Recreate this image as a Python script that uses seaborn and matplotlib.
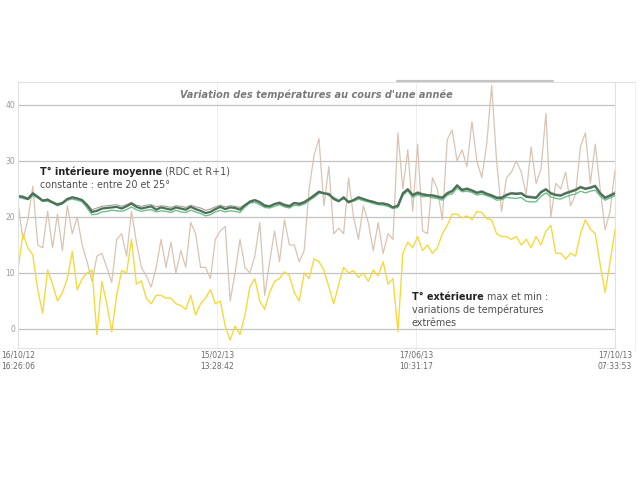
import numpy as np
import pandas as pd
import matplotlib
matplotlib.use("Agg")
import matplotlib.pyplot as plt
import seaborn as sns
from matplotlib.lines import Line2D

# ---------------- data ----------------
start = "2012-10-16 16:26:06"
end = "2013-10-17 07:33:53"
n_points = 122

tick_dates = ["2012-10-16 16:26:06", "2013-02-15 13:28:42",
              "2013-06-17 10:31:17", "2013-10-17 07:33:53"]
tick_labels = ["16/10/12\n16:26:06", "15/02/13\n13:28:42",
               "17/06/13\n10:31:17", "17/10/13\n07:33:53"]
y_ticks = [0, 10, 20, 30, 40]

ext_max = [22.5, 16, 19.5, 25.5, 15, 14.5, 21, 14.5, 20.5, 14,
           22, 17, 20, 15, 12, 8.5, 13, 13.5, 11, 8.3,
           16, 17, 13, 21, 15.5, 11, 9.5, 7.5, 11, 16,
           11, 15.5, 10, 14, 11, 19, 17, 11, 11, 9,
           16, 17.5, 18.3, 5, 10, 16, 11, 10, 13, 19,
           6, 12, 17.5, 12, 19.5, 15, 15, 12, 14, 25,
           31, 34, 22, 29, 17, 18, 17, 27, 20, 16,
           22, 19, 14, 19, 13.5, 17, 16, 35, 25, 32,
           21, 33, 17.5, 17, 27, 25, 19.5, 33.8, 35.5, 30,
           32, 29, 37, 30, 27, 33, 43.5, 30, 21, 27,
           28, 30, 28, 24, 32.5, 26, 28.5, 38.5, 20, 26,
           25, 28, 22, 24, 32.6, 35, 26, 33, 25, 17.7,
           21, 28.4]

ext_min = [10.6, 17, 14.5, 13.2, 7, 2.8, 10.5, 8, 5, 6.5,
           9, 13.8, 7, 9, 10, 10.5, -1.0, 8.5, 4.5, -0.5,
           6, 10.4, 10, 16, 8, 8.6, 5.5, 4.5, 6, 6,
           5.5, 5.5, 4.5, 4.2, 3.5, 6, 2.5, 4.5, 5.5, 7,
           4.5, 5, 0.5, -2.0, 0.5, -1.0, 2.5, 7.5, 9, 5,
           3.5, 6.5, 8.5, 9, 10.2, 9.5, 6.5, 5, 10, 9,
           12.5, 12, 10.5, 7.5, 4.5, 8, 11, 10, 10.4, 9.2,
           10, 8.5, 10.5, 9.5, 12, 8, 9, -0.5, 13.5, 15.5,
           14.5, 16.5, 14, 15, 13.5, 14.5, 17, 18.5, 20.5, 20.5,
           19.8, 20.2, 19.5, 21, 20.8, 19.7, 19.5, 17, 16.5, 16.5,
           16, 16.5, 15, 16, 14.5, 16.5, 15, 17.5, 18.5, 13.5,
           13.5, 12.5, 13.5, 13, 17, 19.5, 17.8, 17, 11.5, 6.5,
           12, 17.7]

int_dark = [23.7, 23.6, 23.2, 24.2, 23.6, 22.9, 23.1, 22.6, 22.2, 22.5, 23.2, 23.5, 23.3, 23.0,
            22.1, 20.9, 21.1, 21.5, 21.6, 21.7, 21.8, 21.5, 21.9, 22.4, 21.8, 21.5, 21.7, 21.9, 21.3, 21.7,
            21.5, 21.3, 21.7, 21.5, 21.3, 21.8, 21.4, 21.1, 20.7, 20.9, 21.4, 21.8, 21.4, 21.7, 21.6, 21.3,
            22.1, 22.7, 23.0, 22.6, 22.0, 21.9, 22.3, 22.5, 22.1, 21.9, 22.5, 22.3, 22.6, 23.2, 23.8,
            24.5, 24.2, 24.1, 23.2, 22.8, 23.5, 22.6, 23.0, 23.5, 23.2, 22.9, 22.7, 22.4, 22.4, 22.2, 21.7, 22.0,
            24.2, 24.9, 23.9, 24.3, 24.0, 23.9, 23.8, 23.6, 23.4, 24.2, 24.6, 25.6, 24.8, 25.0, 24.7, 24.3,
            24.5, 24.1, 23.8, 23.4, 23.4, 23.9,
            24.2, 24.1, 24.2, 23.6, 23.5, 23.4, 24.4, 24.9, 24.2, 23.9, 23.8, 24.2, 24.5, 24.8, 25.3, 25.0,
            25.2, 25.5, 24.2, 23.4, 23.8, 24.2]

int_green = [23.5, 23.3, 23.1, 23.8, 23.4, 22.8, 22.8, 22.5, 22.0, 22.3, 23.0, 23.2, 23.0, 22.7,
             21.6, 20.4, 20.5, 20.9, 21.0, 21.2, 21.1, 21.0, 21.3, 21.8, 21.3, 21.0, 21.2, 21.3, 20.9, 21.1,
             21.0, 20.8, 21.2, 20.9, 20.8, 21.2, 20.9, 20.6, 20.2, 20.4, 20.9, 21.2, 20.9, 21.1, 21.0, 20.8,
             21.8, 22.5, 22.6, 22.2, 21.7, 21.6, 21.9, 22.2, 21.8, 21.6, 22.1, 22.0, 22.3, 22.9, 23.5,
             24.2, 24.4, 23.8, 23.5, 23.0, 23.2, 22.9, 22.8, 23.2, 22.9, 22.7, 22.4, 22.2, 22.1, 21.9, 21.5, 21.7,
             23.8, 24.7, 23.5, 24.0, 23.6, 23.7, 23.4, 23.3, 23.0, 23.9, 24.1, 25.2, 24.5, 24.6, 24.4, 23.9,
             24.1, 23.8, 23.5, 23.0, 23.1, 23.5,
             23.4, 23.3, 23.5, 22.8, 22.7, 22.7, 23.7, 24.3, 23.6, 23.3, 23.2, 23.6, 23.9, 24.1, 24.6, 24.3,
             24.6, 24.8, 23.7, 23.0, 23.4, 23.8]

int_gray = [23.8, 23.7, 23.4, 24.4, 23.7, 23.0, 23.2, 22.7, 22.4, 22.6, 23.3, 23.6, 23.4, 23.1,
            22.3, 21.3, 21.6, 21.9, 22.0, 22.1, 22.2, 21.9, 22.2, 22.6, 22.1, 21.9, 22.1, 22.2, 21.8, 22.0,
            21.9, 21.7, 22.0, 21.9, 21.7, 22.1, 21.8, 21.6, 21.2, 21.4, 21.8, 22.1, 21.8, 22.0, 21.9, 21.7,
            22.2, 22.9, 23.1, 22.8, 22.2, 22.0, 22.4, 22.7, 22.3, 22.1, 22.6, 22.5, 22.8, 23.3, 24.0,
            24.6, 24.3, 24.2, 23.4, 22.9, 23.6, 22.8, 23.1, 23.6, 23.3, 23.0, 22.8, 22.5, 22.5, 22.3, 21.8, 22.2,
            24.4, 25.1, 24.1, 24.5, 24.2, 24.0, 24.0, 23.8, 23.6, 24.4, 24.8, 25.8, 25.0, 25.2, 24.9, 24.5,
            24.7, 24.3, 24.0, 23.6, 23.6, 24.1,
            24.4, 24.3, 24.4, 23.8, 23.7, 23.6, 24.6, 25.1, 24.4, 24.1, 24.0, 24.4, 24.7, 25.0, 25.5, 25.2,
            25.4, 25.7, 24.4, 23.6, 24.0, 24.5]

# ---------------- figure ----------------
sns.set_theme(style="white")
plt.rcParams["font.family"] = ["DejaVu Sans"]

dates = pd.date_range(start, end, periods=n_points)
df = pd.DataFrame({"date": dates, "ext_max": ext_max, "ext_min": ext_min,
                   "int_gray": int_gray, "int_green": int_green, "int_dark": int_dark})

fig = plt.figure(figsize=(6.4, 4.8), dpi=100)
fig.patch.set_facecolor("white")
ax = fig.add_axes([18 / 640, 1 - 348 / 480, (615 - 18) / 640, (348 - 82) / 480])

styles = [("ext_max", "#d9c4b4", 0.9),
          ("ext_min", "#f4da3e", 1.0),
          ("int_gray", "#a29d98", 0.8),
          ("int_green", "#6cc18b", 1.0),
          ("int_dark", "#4d6f58", 1.6)]
for col, color, lw in styles:
    sns.lineplot(data=df, x="date", y=col, ax=ax, color=color, linewidth=lw, legend=False)

ax.set_xlim(dates[0], dates[-1])
ax.set_ylim(-3.4, 44.1)
ax.set_xlabel("")
ax.set_ylabel("")
ax.set_axisbelow(True)
ax.set_yticks(y_ticks)
ax.set_yticklabels([str(v) for v in y_ticks], fontsize=5.5, color="#9a9a9a")
ax.set_xticks(pd.to_datetime(tick_dates))
ax.set_xticklabels(tick_labels, fontsize=5.5, color="#6a6a6a",
                   family=["Liberation Sans Narrow", "DejaVu Sans"], linespacing=1.3)
ax.tick_params(length=0, pad=2)
ax.yaxis.grid(True, color="#c2c2c2", linewidth=0.9)
ax.xaxis.grid(True, color="#eeeeee", linewidth=0.8)
for s in ax.spines.values():
    s.set_color("#e2e2e2")
    s.set_linewidth(0.8)

# frame decorations
fig.add_artist(Line2D([397 / 640, 553 / 640], [1 - 81 / 480] * 2, color="#c4c4c4", lw=1.6))
fig.add_artist(Line2D([615 / 640, 635 / 640], [1 - 82 / 480] * 2, color="#e2e2e2", lw=0.8))
fig.add_artist(Line2D([635 / 640, 635 / 640], [1 - 82 / 480, 1 - 350 / 480], color="#eeeeee", lw=0.8))

# title
fig.text(316 / 640, 1 - 95 / 480, "Variation des températures au cours d'une année",
         ha="center", va="center", fontsize=7, style="italic", weight="bold", color="#7a7a7a")

# annotations
fs = 6.9
t1 = fig.text(40 / 640, 1 - 172 / 480, "T° intérieure moyenne", ha="left", va="center",
              fontsize=fs, weight="bold", color="#222222")
ax.annotate(" (RDC et R+1)", xy=(1, 0.5), xycoords=t1, ha="left", va="center",
            fontsize=fs, color="#4f4f4f")
fig.text(40 / 640, 1 - 185 / 480, "constante : entre 20 et 25°", ha="left", va="center",
         fontsize=fs, color="#4f4f4f")

t2 = fig.text(412 / 640, 1 - 297 / 480, "T° extérieure", ha="left", va="center",
              fontsize=fs, weight="bold", color="#222222")
ax.annotate(" max et min :", xy=(1, 0.5), xycoords=t2, ha="left", va="center",
            fontsize=fs, color="#4f4f4f")
fig.text(412 / 640, 1 - 310 / 480, "variations de températures", ha="left", va="center",
         fontsize=fs, color="#4f4f4f")
fig.text(412 / 640, 1 - 323 / 480, "extrêmes", ha="left", va="center",
         fontsize=fs, color="#4f4f4f")

fig.savefig("out.png", dpi=100, facecolor="white")
